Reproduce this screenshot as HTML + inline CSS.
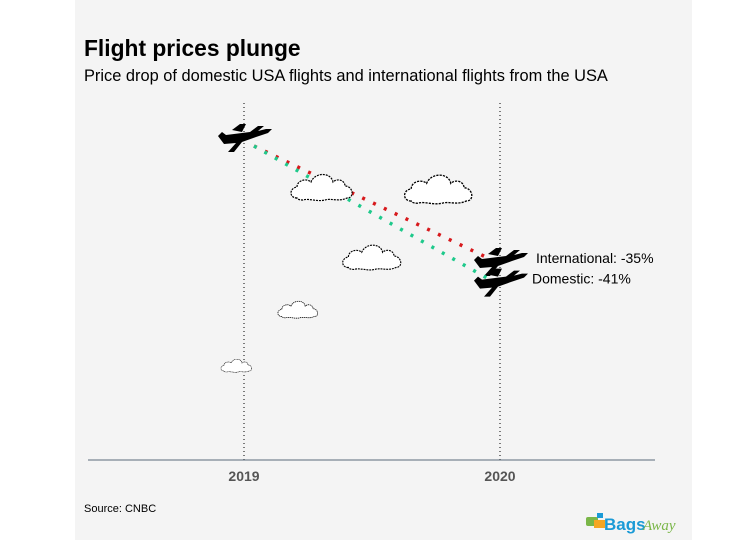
<!DOCTYPE html>
<html><head><meta charset="utf-8"><style>
html,body{margin:0;padding:0;background:#fff;}
body{width:740px;height:540px;position:relative;overflow:hidden;font-family:"Liberation Sans",Arial,sans-serif;}
</style></head><body>
<svg id="chart" width="740" height="540" xmlns="http://www.w3.org/2000/svg" style="position:absolute;left:0;top:0">
<defs>
<g id="plane">
<path d="M-26,-2 L-22,-6 L-18,-3 L6,-6 L14,-12 L20,-12 L14,-7 L22,-9 L28,-9 L24,-5 L12,-1 L-2,4 L-10,14 L-16,14 L-8,5 L-20,6 Z" fill="#000"/>
<path d="M-12,-8 L-4,-14 L2,-14 L-2,-6 Z" fill="#000"/>
</g>
<g id="cloud">
<path d="M-28,10 C-36,10 -36,0 -28,-1 C-28,-8 -18,-10 -14,-6 C-10,-16 6,-16 8,-6 C12,-10 20,-8 20,-2 C28,-2 30,10 22,10 C14,14 6,10 0,12 C-8,14 -16,10 -22,12 C-26,12 -28,11 -28,10 Z" fill="#fff" stroke="#000" stroke-width="1.2" stroke-dasharray="2,1"/>
</g>
</defs>
<rect x="75" y="0" width="617" height="540" fill="#f4f4f4"/>
<text x="84" y="56" font-size="22.8" font-weight="bold" fill="#000">Flight prices plunge</text>
<text x="84" y="81" font-size="16.4" fill="#000">Price drop of domestic USA flights and international flights from the USA</text>
<g id="gridlines"></g>
<line x1="88" y1="460" x2="655" y2="460" stroke="#5a6a7a" stroke-width="1"/>
<g id="xticks"></g>
<g id="series"></g>
<g id="clouds"></g>
<text x="84" y="512" font-size="11" fill="#000">Source: CNBC</text>
<g>
<rect x="586" y="517" width="12" height="9" rx="2" fill="#7ab648"/>
<rect x="594" y="520" width="11" height="8" fill="#f5a623"/>
<rect x="597" y="513" width="6" height="5" fill="#1a9ad6"/>
<text x="604" y="530" font-size="17" font-weight="bold" fill="#1a9ad6">Bags</text>
<text x="643" y="530" font-size="15" font-style="italic" fill="#7ab648" font-family="Liberation Serif,serif">Away</text>
</g>
</svg>
<script>
const years=["2019","2020"];
const seriesNames=["International","Domestic"];
const internationalValues=[100,65];
const domesticValues=[100,59];
const seriesColors=["#d7191c","#1ec98b"];
const labels=["International: -35%","Domestic: -41%"];
const cloudPositions=[[325,188,1],[442,190,1.1],[375,258,0.95],[300,310,0.65],[238,366,0.5]];
const NS="http://www.w3.org/2000/svg";
function xScale(i){return 244+i*256;}
function yScale(v){return 142+(100-v)*3.43;}
function mk(tag,attrs,parent){const e=document.createElementNS(NS,tag);for(const k in attrs)e.setAttribute(k,attrs[k]);parent.appendChild(e);return e;}
const cg=document.getElementById('clouds');
cloudPositions.forEach((c,i)=>{
 const u=mk('use',{href:'#cloud',transform:`translate(${c[0]},${c[1]}) scale(${c[2]})`},cg);
 
 
});
const gg=document.getElementById('gridlines');
const tg=document.getElementById('xticks');
years.forEach((y,i)=>{
 const l=mk('line',{x1:xScale(i),x2:xScale(i),y1:103,y2:460,stroke:'#000','stroke-width':1,'stroke-dasharray':'1,3'},gg);
 
 
 const t=mk('text',{x:xScale(i),y:481,'text-anchor':'middle','font-size':14,'font-weight':'bold',fill:'#555'},tg);
 t.textContent=y;
 
 
});
const sg=document.getElementById('series');
[internationalValues,domesticValues].forEach((vals,s)=>{
 const x0=xScale(0),y0=yScale(vals[0]),x1=xScale(1),y1=yScale(vals[1]);
 const l=mk('line',{x1:x0+10,y1:y0+4,x2:x1-12,y2:y1-4,stroke:seriesColors[s],'stroke-width':3.5,'stroke-dasharray':'3,9'},sg);
 
 
 const p=mk('use',{href:'#plane',transform:`translate(${x1},${y1})`},sg);
 
 
 const t=mk('text',{x:x1+(s===0?36:32),y:y1+1,'font-size':14,fill:'#000'},sg);
 t.textContent=labels[s];
 
 
});
const p0=mk('use',{href:'#plane',transform:`translate(${xScale(0)},${yScale(internationalValues[0])-4})`},sg);


</script>
</body></html>
